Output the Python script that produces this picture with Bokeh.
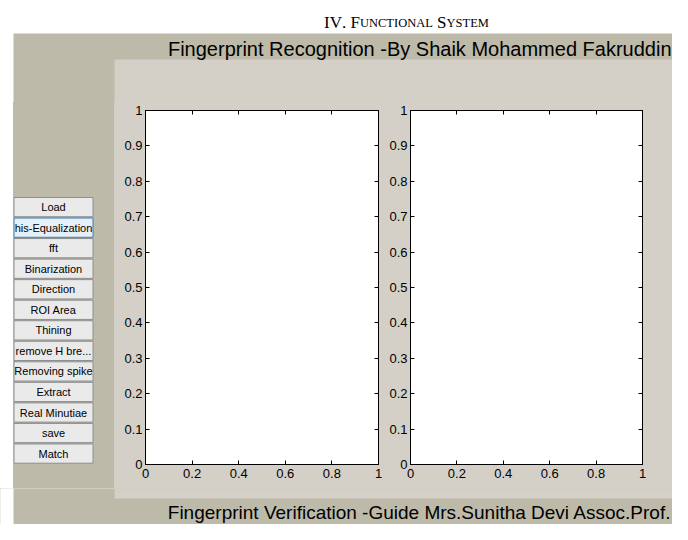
from bokeh.plotting import figure
from bokeh.models import Range1d, LinearAxis, FixedTicker, Spacer
from bokeh.layouts import column, row
from bokeh.core.properties import value
from bokeh.embed import file_html
from bokeh.resources import INLINE

# ---------------- content ----------------
HEADING = "IV. Functional System"
TITLE = "Fingerprint Recognition -By Shaik Mohammed Fakruddin"
FOOTER = "Fingerprint Verification -Guide Mrs.Sunitha Devi Assoc.Prof."
BUTTONS = ["Load", "his-Equalization", "fft", "Binarization", "Direction",
           "ROI Area", "Thining", "remove H bre...", "Removing spike",
           "Extract", "Real Minutiae", "save", "Match"]
FOCUSED = "his-Equalization"
Y_TICKS = [0, 0.1, 0.2, 0.3, 0.4, 0.5, 0.6, 0.7, 0.8, 0.9, 1]
Y_LABELS = ["0", "0.1", "0.2", "0.3", "0.4", "0.5", "0.6", "0.7", "0.8", "0.9", "1"]
X_TICKS = [0, 0.2, 0.4, 0.6, 0.8, 1]
X_LABELS = ["0", "0.2", "0.4", "0.6", "0.8", "1"]

# ---------------- style / layout ----------------
OLIVE = "#BDBAA9"
PANEL = "#D4D0C8"
SANS = value("Liberation Sans")
SERIF = value("Liberation Serif")
W = 672
FRAME_TOP, FRAME_BOT = 110, 464      # page pixels of the axes frames
B_TOP, B_BOT = 8, 24                 # axes borders above / below the frame
TOP_H = FRAME_TOP - B_TOP            # 102
MID_H = B_TOP + (FRAME_BOT - FRAME_TOP) + B_BOT   # 386
BOT_H = 524 - TOP_H - MID_H          # 36
EXT = 10                             # let fills run past the canvas edge (clipped)


def canvas(w, x0, y0, y1, bt=0, bb=0, border="white", bg="white"):
    p = figure(width=w, height=(y1 - y0) + bt + bb,
               x_range=Range1d(x0, x0 + w), y_range=Range1d(y1, y0),
               min_border=0, min_border_top=bt, min_border_bottom=bb,
               toolbar_location=None, output_backend="svg",
               x_axis_location=None, y_axis_location=None,
               styles={"background-color": border})
    p.grid.visible = False
    p.outline_line_color = None
    p.background_fill_color = bg
    p.border_fill_color = border
    return p


# ---------------- top strip ----------------
top = canvas(W, 0, 0, TOP_H)
top.quad(left=[13], right=[W + EXT], top=[33], bottom=[TOP_H + EXT],
         fill_color=OLIVE, line_color=None)
top.quad(left=[114], right=[W + EXT], top=[59], bottom=[TOP_H + EXT],
         fill_color=PANEL, line_color=None)

# small-caps heading built from Times metrics
TIMES_W = {"I": 333, "V": 722, ".": 250, " ": 250, "F": 556, "U": 722, "N": 722,
           "C": 667, "T": 611, "O": 722, "A": 722, "L": 611, "S": 556, "Y": 722,
           "E": 611, "M": 889}
BIG, SMALL = 17, 12.5
segs = []
for ch in HEADING:
    big = not ch.isalpha() or ch.isupper()
    segs.append((ch.upper(), BIG if big else SMALL))
total = sum(TIMES_W.get(c, 600) / 1000 * s for c, s in segs)
x = 406 - total / 2
for c, s in segs:
    if c != " ":
        top.text(x=[x], y=[22], text=[c], text_font=SERIF, text_font_size=f"{s}px",
                 text_align="left", text_baseline="alphabetic", text_color="black")
    x += TIMES_W.get(c, 600) / 1000 * s

top.text(x=[671], y=[48], text=[TITLE], text_font=SANS, text_font_size="20px",
         text_align="right", text_baseline="alphabetic", text_color="black")

# ---------------- left strip with buttons ----------------
left = canvas(101, 13, FRAME_TOP, FRAME_BOT, B_TOP, B_BOT, border=OLIVE, bg=OLIVE)
n = len(BUTTONS)
first, last = 197, 464
pitch = (last - first) / n
b_top = [first + i * pitch for i in range(n)]
b_bot = [t + pitch - 1.3 for t in b_top]
b_mid = [(t + b) / 2 for t, b in zip(b_top, b_bot)]
fills = ["#E6F0F8" if b == FOCUSED else "#EAEAEA" for b in BUTTONS]
edges = ["#3C7FB1" if b == FOCUSED else "#8E8F8F" for b in BUTTONS]
left.quad(left=[13.5] * n, right=[92.5] * n, top=b_top, bottom=b_bot,
          fill_color=fills, line_color=edges, line_width=1)
left.text(x=[53] * n, y=b_mid, text=BUTTONS, text_font=SANS, text_font_size="11px",
          text_align="center", text_baseline="middle", text_color="black")


# ---------------- the two MATLAB axes ----------------
def axes_fig(w, left_border):
    p = figure(width=w, height=MID_H, x_range=Range1d(0, 1), y_range=Range1d(0, 1),
               min_border_left=left_border, min_border_right=6, min_border_top=B_TOP,
               min_border_bottom=B_BOT, toolbar_location=None, output_backend="svg",
               x_axis_location=None, y_axis_location=None,
               styles={"background-color": PANEL})
    p.grid.visible = False
    p.background_fill_color = "white"
    p.border_fill_color = PANEL
    p.outline_line_color = "black"
    for loc, ticks, labels in (("below", X_TICKS, X_LABELS), ("above", X_TICKS, X_LABELS),
                               ("left", Y_TICKS, Y_LABELS), ("right", Y_TICKS, Y_LABELS)):
        ax = LinearAxis(ticker=FixedTicker(ticks=ticks),
                        major_label_overrides={t: l for t, l in zip(ticks, labels)})
        ax.major_tick_in = 4
        ax.major_tick_out = 0
        ax.minor_tick_line_color = None
        ax.axis_line_color = "black"
        ax.major_tick_line_color = "black"
        ax.major_label_text_font = "Liberation Sans"
        if loc in ("below", "left"):
            ax.major_label_text_color = "black"
            ax.major_label_text_font_size = "13px"
            ax.major_label_standoff = 4 if loc == "below" else 3
        else:
            ax.major_label_text_color = None
            ax.major_label_text_font_size = "0px"
            ax.major_label_standoff = 0
        p.add_layout(ax, loc)
    return p


ax1 = axes_fig(270, 31)
ax2 = axes_fig(264, 26)

right = canvas(24, 648, FRAME_TOP, FRAME_BOT, B_TOP, B_BOT, border=PANEL, bg=PANEL)
right.quad(left=[648 - EXT], right=[W + EXT], top=[FRAME_TOP - EXT], bottom=[FRAME_BOT + EXT],
           fill_color=PANEL, line_color=None)

# ---------------- bottom strip ----------------
y0 = TOP_H + MID_H
bot = canvas(W, 0, y0, y0 + BOT_H, border=OLIVE)
bot.quad(left=[0 - EXT], right=[13], top=[y0 - EXT], bottom=[y0 + BOT_H + EXT],
         fill_color="white", line_color=None)
bot.quad(left=[13], right=[W + EXT], top=[y0 - EXT], bottom=[y0 + BOT_H + EXT],
         fill_color=OLIVE, line_color=None)
bot.quad(left=[114], right=[W + EXT], top=[y0 - EXT], bottom=[498],
         fill_color=PANEL, line_color=None)
bot.text(x=[671], y=[512], text=[FOOTER], text_font=SANS, text_font_size="19px",
         text_align="right", text_baseline="alphabetic", text_color="black")

mid = row(Spacer(width=13, height=MID_H, styles={"background-color": "white"}),
          left, ax1, ax2, right, styles={"background-color": OLIVE})
page = column(top, mid, bot)

open("out.html", "w").write(file_html(page, INLINE))
